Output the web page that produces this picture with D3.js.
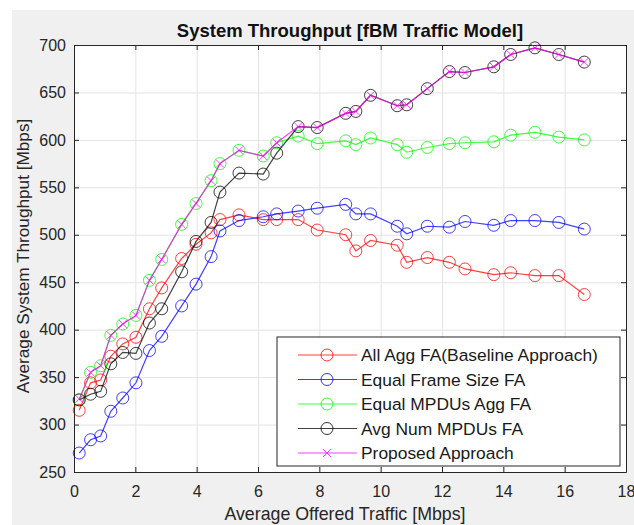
<!DOCTYPE html>
<html>
<head>
<meta charset="utf-8">
<script src="https://cdn.jsdelivr.net/npm/d3@7"></script>
<style>
  body { margin: 0; background: #fff; }
  svg { display: block; font-family: "Liberation Sans", Arial, sans-serif; }
  .grid line { stroke: #e3e3e3; stroke-width: 1; }
</style>
</head>
<body>
<div id="chart"></div>
<script>
// offered traffic (Mbps), shared by all curves
var traffic = [0.17, 0.54, 0.87, 1.2, 1.59, 2.02, 2.46, 2.86, 3.51, 3.98, 4.47, 4.76, 5.38, 6.17, 6.61,
    7.31, 7.93, 8.86, 9.19, 9.67, 10.54, 10.85, 11.52, 12.24, 12.75, 13.69, 14.24, 15.03, 15.81, 16.64];

var allAgg = [315, 344, 347, 372, 385, 392, 422, 444, 475, 490, 502, 516, 521, 516, 516,
    516, 505, 500, 483, 494, 489, 471, 476, 471, 464, 458, 460, 457, 457, 437];
var equalFrame = [270, 284, 288, 314, 328, 344, 378, 393, 425, 448, 477, 504, 515, 519, 522,
    525, 528, 532, 522, 522, 509, 501, 509, 508, 514, 510, 515, 515, 513, 506];
var equalMpdus = [326, 355, 362, 394, 406, 415, 452, 474, 511, 533, 557, 575, 589, 583, 597,
    604, 596, 599, 595, 602, 595, 587, 592, 596, 597, 598, 605, 608, 603, 600];
var avgNum = [326, 332, 335, 364, 376, 375, 407, 422, 461, 493, 513, 545, 565, 564, 586,
    614, 613, 628, 630, 647, 636, 637, 654, 672, 671, 677, 690, 697, 690, 682];
var proposed = [327, 355, 362, 394, 406, 415, 452, 474, 511, 533, 557, 575, 589, 583, 597,
    614, 613, 628, 630, 647, 636, 637, 654, 672, 671, 677, 690, 697, 690, 682];

var seriesNames = ["All Agg FA(Baseline Approach)", "Equal Frame Size FA", "Equal MPDUs Agg FA",
    "Avg Num MPDUs FA", "Proposed Approach"];
var seriesColors = ["#ff0000", "#0000ff", "#00ff00", "#000000", "#ff00ff"];
var seriesMarkers = ["o", "o", "o", "o", "x"];
var seriesValues = [allAgg, equalFrame, equalMpdus, avgNum, proposed];

var xTicks = [0, 2, 4, 6, 8, 10, 12, 14, 16, 18];
var yTicks = [250, 300, 350, 400, 450, 500, 550, 600, 650, 700];

var svg_width = 634, svg_height = 525;
var svg = d3.select("#chart").append("svg")
    .attr("width", svg_width)
    .attr("height", svg_height);

// figure background (matlab grey)
svg.append("rect")
    .attr("x", 12).attr("y", 10)
    .attr("width", svg_width - 12).attr("height", svg_height - 10)
    .attr("fill", "#f0f0f0");

var box = {left: 74, right: 626, top: 45, bottom: 472};

var x = d3.scaleLinear().domain([0, 18]).range([box.left, box.right]);
var y = d3.scaleLinear().domain([250, 700]).range([box.bottom, box.top]);

svg.append("rect")
    .attr("x", box.left).attr("y", box.top)
    .attr("width", box.right - box.left).attr("height", box.bottom - box.top)
    .attr("fill", "#fff");

// grid
svg.append("g")
    .attr("class", "grid")
    .attr("transform", "translate(0," + box.top + ")")
    .call(d3.axisBottom(x).tickValues(xTicks).tickSize(box.bottom - box.top).tickFormat(""))
    .call(function(g) { g.select(".domain").remove(); });

svg.append("g")
    .attr("class", "grid")
    .attr("transform", "translate(" + box.left + ",0)")
    .call(d3.axisRight(y).tickValues(yTicks).tickSize(box.right - box.left).tickFormat(""))
    .call(function(g) { g.select(".domain").remove(); });

// axes, ticks pointing inward like matlab
function styleAxis(g) {
    g.select(".domain").attr("stroke", "#262626");
    g.selectAll(".tick line").attr("stroke", "#262626");
    g.selectAll(".tick text").attr("fill", "#262626").attr("font-size", 16);
}

svg.append("g")
    .attr("transform", "translate(0," + box.bottom + ")")
    .call(d3.axisBottom(x).tickValues(xTicks).tickSizeInner(-5).tickSizeOuter(0).tickPadding(14))
    .call(styleAxis);

svg.append("g")
    .attr("transform", "translate(0," + box.top + ")")
    .call(d3.axisTop(x).tickValues(xTicks).tickSizeInner(-5).tickSizeOuter(0).tickFormat(""))
    .call(styleAxis);

svg.append("g")
    .attr("transform", "translate(" + box.left + ",0)")
    .call(d3.axisLeft(y).tickValues(yTicks).tickSizeInner(-5).tickSizeOuter(0).tickPadding(8))
    .call(styleAxis);

svg.append("g")
    .attr("transform", "translate(" + box.right + ",0)")
    .call(d3.axisRight(y).tickValues(yTicks).tickSizeInner(-5).tickSizeOuter(0).tickFormat(""))
    .call(styleAxis);

// curves
var line = d3.line()
    .x(function(d) { return x(d[0]); })
    .y(function(d) { return y(d[1]); });

function drawMarker(sel, kind, color) {
    if (kind === "o") {
        sel.append("circle")
            .attr("r", 6)
            .attr("fill", "none")
            .attr("stroke", color)
            .attr("stroke-width", 1);
    } else {
        sel.append("path")
            .attr("d", "M-4,-4L4,4M-4,4L4,-4")
            .attr("stroke", color)
            .attr("stroke-width", 1);
    }
}

seriesValues.forEach(function(vals, i) {
    var pts = traffic.map(function(t, j) { return [t, vals[j]]; });
    var g = svg.append("g");
    g.append("path")
        .datum(pts)
        .attr("d", line)
        .attr("fill", "none")
        .attr("stroke", seriesColors[i])
        .attr("stroke-opacity", 0.75)
        .attr("stroke-width", 1.2);
    var m = g.selectAll(".m")
        .data(pts)
        .enter().append("g")
        .attr("transform", function(d) { return "translate(" + x(d[0]) + "," + y(d[1]) + ")"; });
    drawMarker(m, seriesMarkers[i], seriesColors[i]);
    m.attr("opacity", 0.75);
});

// title and labels
svg.append("text")
    .attr("x", (box.left + box.right) / 2)
    .attr("y", 37)
    .attr("text-anchor", "middle")
    .attr("font-size", 18.5)
    .attr("font-weight", "bold")
    .attr("fill", "#111")
    .text("System Throughput [fBM Traffic Model]");

svg.append("text")
    .attr("x", 345)
    .attr("y", 520)
    .attr("text-anchor", "middle")
    .attr("font-size", 17.8)
    .attr("fill", "#262626")
    .text("Average Offered Traffic [Mbps]");

svg.append("text")
    .attr("transform", "translate(29," + 256 + ") rotate(-90)")
    .attr("text-anchor", "middle")
    .attr("font-size", 17.2)
    .attr("fill", "#262626")
    .text("Average System Throughput [Mbps]");

// legend
var legend = svg.append("g");
legend.append("rect")
    .attr("x", 277).attr("y", 337)
    .attr("width", 343).attr("height", 129)
    .attr("fill", "#fff")
    .attr("stroke", "#262626")
    .attr("stroke-width", 1);

var item = legend.selectAll(".item")
    .data(seriesNames)
    .enter().append("g")
    .attr("transform", function(d, i) { return "translate(0," + (355 + i * 24.5) + ")"; });

item.append("line")
    .attr("x1", 298).attr("x2", 357)
    .attr("stroke", function(d, i) { return seriesColors[i]; })
    .attr("stroke-opacity", 0.75)
    .attr("stroke-width", 1.2);

item.each(function(d, i) {
    var mk = d3.select(this).append("g").attr("transform", "translate(327,0)");
    drawMarker(mk, seriesMarkers[i], seriesColors[i]);
    mk.attr("opacity", 0.8);
});

item.append("text")
    .attr("x", 361)
    .attr("dy", "0.35em")
    .attr("font-size", 17.4)
    .attr("fill", "#1a1a1a")
    .text(function(d) { return d; });
</script>
</body>
</html>
